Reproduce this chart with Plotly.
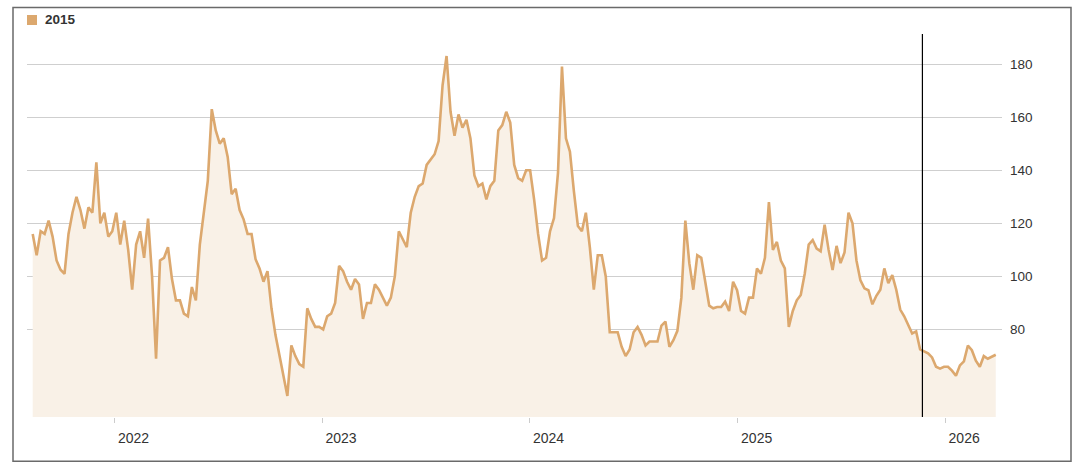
import pandas as pd
import plotly.graph_objects as go

series_name = "2015"
start_date = "2021-08-10"
values = [
    116, 108, 117, 116, 121, 115, 106, 102.5, 101, 116,
    124, 130, 125, 118, 126, 124, 143, 120, 124, 115,
    117, 124, 112, 121, 110, 95, 112, 117, 107, 121.8,
    100, 69, 106, 107, 111, 99, 91, 91, 86, 85,
    96, 91, 112, 123, 136, 163, 155, 150, 152, 145,
    131, 133, 125, 121.5, 116, 116, 106.5, 103, 98, 102,
    88, 78, 70, 63, 55, 74, 70, 67, 66, 88,
    84, 81, 81, 80, 85, 86, 90, 104, 102, 98,
    95, 99, 97, 84, 90, 90, 97, 95, 92, 89,
    92, 100, 117, 114, 111, 124, 130, 134, 135, 142,
    144, 146, 151, 172, 183, 162, 153, 161, 156, 159,
    152, 138, 134, 135, 129, 134, 136, 155, 157, 162,
    158, 142, 137, 136, 140, 140, 129, 116, 106, 107,
    117, 122, 139, 179, 152, 147, 132, 119, 117, 124,
    111, 95, 108, 108, 100, 79, 79, 79, 73.5, 70,
    72.5, 79, 81, 78, 74, 75.5, 75.5, 75.5, 81.5, 83,
    73.5, 76, 79.5, 92, 121, 105, 95, 108, 107, 97.3,
    89, 88, 88.5, 88.5, 90.5, 87, 98, 94.8, 87, 86,
    92, 92, 103, 101, 107, 128, 110, 113, 106, 103,
    81, 87, 91, 93, 101, 112, 113.7, 110.5, 109.5, 119.5,
    110, 102.4, 111.5, 105, 109, 124, 120, 106, 98.5, 95.5,
    94.8, 89.5, 92.7, 95, 103, 97.5, 100.5, 95, 87.5, 85,
    81.5, 78.5, 79.3, 72.5, 71.8, 71, 69.5, 66, 65.3, 66,
    66, 64.5, 62.6, 66.5, 68, 74, 72.2, 68.3, 66, 70,
    69, 69.7, 70.5,
]
dates = pd.date_range(start_date, periods=len(values), freq="7D")

y_ticks = [80, 100, 120, 140, 160, 180]
x_range = ["2021-07-31", "2026-04-11"]
y_range = [47.06, 191.3]
marker_date = "2025-11-22"

LINE = "#DCA86E"
FILL = "rgb(249,241,231)"
FONT = "Liberation Sans, Arial, Helvetica, sans-serif"

fig = go.Figure()
fig.add_trace(go.Scatter(
    x=dates, y=values, mode="lines", name=series_name,
    line=dict(color=LINE, width=2.6),
    fill="tozeroy", fillcolor=FILL, showlegend=False,
))

fig.update_layout(
    width=1080, height=468,
    margin=dict(l=27, r=78, t=34, b=51, pad=0),
    paper_bgcolor="white", plot_bgcolor="white",
    font=dict(family=FONT, color="#333", size=14),
    xaxis=dict(
        type="date", range=x_range, tick0="2022-01-01", dtick="M12",
        tickformat="%Y", showgrid=False, zeroline=False, showline=False,
        ticks="outside", ticklen=5, tickcolor="#cccccc", tickwidth=1,
        tickfont=dict(size=14, color="#333"),
        ticklabelshift=19, ticklabelstandoff=3,
    ),
    yaxis=dict(
        side="right", range=y_range, tickvals=y_ticks,
        showgrid=True, gridcolor="#cfcfcf", gridwidth=1,
        zeroline=False, showline=False, ticks="",
        tickfont=dict(size=13.5, color="#333"),
        ticklabelstandoff=7,
    ),
    shapes=[
        dict(type="line", xref="x", yref="paper", x0=marker_date, x1=marker_date,
             y0=0, y1=1, line=dict(color="black", width=1.2)),
        dict(type="rect", xref="paper", yref="paper",
             x0=(13 - 27) / 975, x1=(1071 - 27) / 975,
             y0=(416.7 - 461) / 382.7, y1=(416.7 - 7.5) / 382.7,
             line=dict(color="#6a6a6a", width=1.5), fillcolor="rgba(0,0,0,0)"),
        dict(type="rect", xref="paper", yref="paper",
             x0=0, x1=10 / 975,
             y0=(416.7 - 25) / 382.7, y1=(416.7 - 15) / 382.7,
             line=dict(width=0), fillcolor=LINE),
    ],
    annotations=[
        dict(xref="paper", yref="paper", x=16 / 975, y=(416.7 - 19.5) / 382.7,
             text="<b>" + series_name + "</b>", showarrow=False,
             xanchor="left", yanchor="middle",
             font=dict(size=13.5, color="#333", family=FONT)),
    ],
)

fig.write_html(
    "out.html",
    config={"displayModeBar": False},
    post_script="document.body.style.margin='0px';document.body.style.overflow='hidden';",
)
